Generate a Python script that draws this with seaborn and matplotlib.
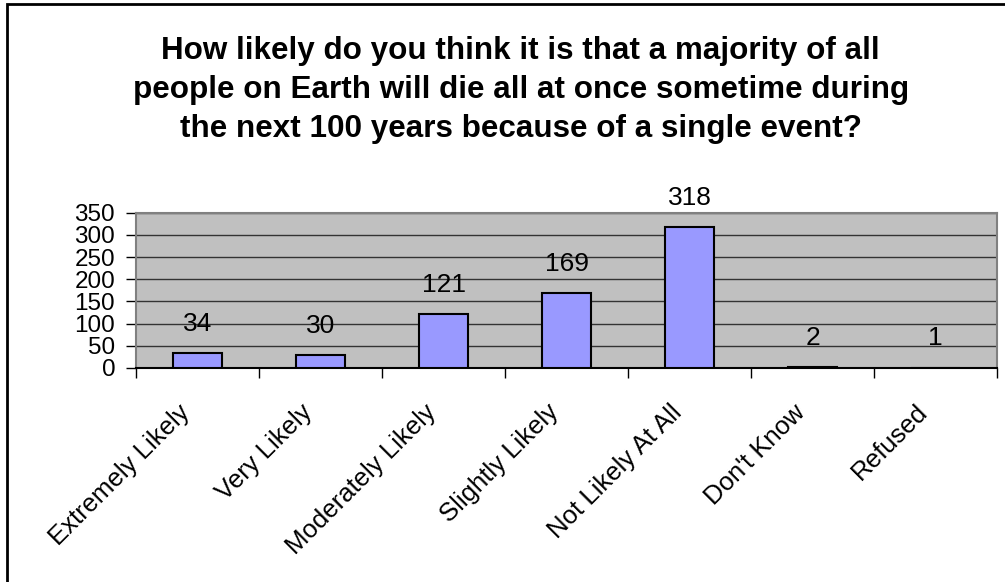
import matplotlib
matplotlib.use('Agg')
import matplotlib.pyplot as plt
from matplotlib.patches import Rectangle
from matplotlib.transforms import ScaledTranslation
import seaborn as sns
import pandas as pd

# --- Data ---
CATEGORIES = ['Extremely Likely', 'Very Likely', 'Moderately Likely', 'Slightly Likely',
              'Not Likely At All', "Don't Know", 'Refused']
COUNTS = [34, 30, 121, 169, 318, 2, 1]
Y_TICKS = [0, 50, 100, 150, 200, 250, 300, 350]
TITLE = ('How likely do you think it is that a majority of all\n'
         'people on Earth will die all at once sometime during\n'
         'the next 100 years because of a single event?')

sns.set_theme(style='white')
plt.rcParams['font.family'] = ['Liberation Sans', 'DejaVu Sans']
plt.rcParams['text.color'] = 'black'
plt.rcParams['xtick.color'] = 'black'
plt.rcParams['ytick.color'] = 'black'

df = pd.DataFrame({'answer': CATEGORIES, 'count': COUNTS})

fig = plt.figure(figsize=(10.05, 5.82), dpi=100)
ax = fig.add_axes([0.1353, 0.3677, 0.857, 0.2668])
ax.set_facecolor('#C0C0C0')

sns.barplot(data=df, x='answer', y='count', order=CATEGORIES, color='#9999FF',
            saturation=1, width=0.4, edgecolor='black', linewidth=1.5, ax=ax, zorder=3)

ax.set_ylim(0, 350)
ax.set_xlim(-0.5, len(CATEGORIES) - 0.5)
ax.set_yticks(Y_TICKS)
ax.set_yticklabels([str(t) for t in Y_TICKS], fontsize=17.5)
ax.yaxis.grid(True, color='#333333', linewidth=1, zorder=1)
ax.set_axisbelow(True)

# category labels, tick marks between categories
ax.set_xticks(range(len(CATEGORIES)))
ax.set_xticklabels(CATEGORIES, rotation=45, ha='right', rotation_mode='anchor', fontsize=18.5)
ax.set_xticks([i - 0.5 for i in range(len(CATEGORIES) + 1)], minor=True)
ax.tick_params(axis='x', which='major', length=0, pad=23, labelcolor='black')
ax.tick_params(axis='x', which='minor', length=7, width=1, color='black', direction='out', bottom=True)
ax.tick_params(axis='y', length=7, width=1, color='black', direction='out', left=True, pad=8,
               labelcolor='black')
shift = ScaledTranslation(-0.20, 0, fig.dpi_scale_trans)
for lbl in ax.get_xticklabels():
    lbl.set_transform(lbl.get_transform() + shift)

ax.set_xlabel('')
ax.set_ylabel('')

for side in ['top', 'right', 'left']:
    ax.spines[side].set_color('#808080')
    ax.spines[side].set_linewidth(1.5)
ax.spines['bottom'].set_color('black')
ax.spines['bottom'].set_linewidth(1.5)

for i, v in enumerate(COUNTS):
    ax.annotate(str(v), xy=(i, v), xytext=(0, 21), textcoords='offset points',
                ha='center', va='center', fontsize=19, color='black', annotation_clip=False)

fig.text(0.518, 0.845, TITLE, ha='center', va='center', fontsize=22.6,
         fontweight='bold', linespacing=1.4, color='black')

# chart border
fig.patches.append(Rectangle((0.007, -0.05), 1.05, 1.043, transform=fig.transFigure,
                             fill=False, edgecolor='black', linewidth=2))

fig.savefig('out.png', dpi=100)
